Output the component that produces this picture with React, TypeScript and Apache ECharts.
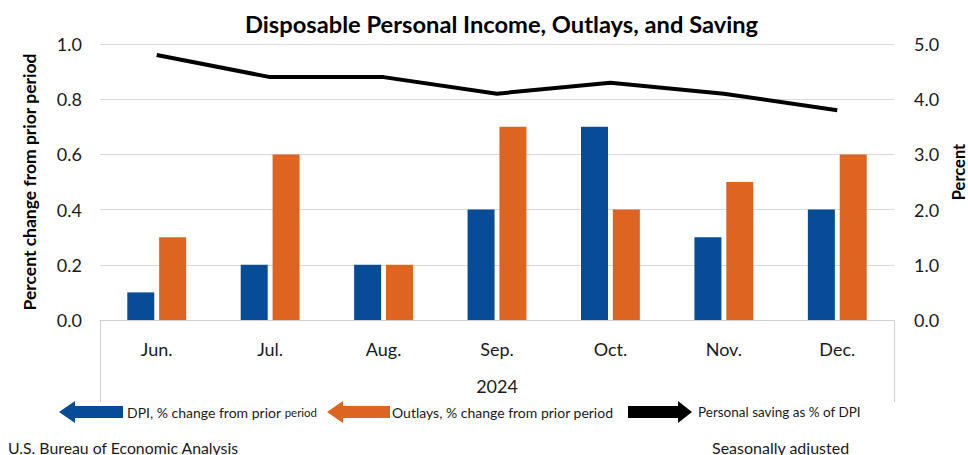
import React, { useEffect, useRef } from "react";
import * as echarts from "echarts";

const categories = ["Jun.", "Jul.", "Aug.", "Sep.", "Oct.", "Nov.", "Dec."];
const dpiChange = [0.1, 0.2, 0.2, 0.4, 0.7, 0.3, 0.4];
const outlaysChange = [0.3, 0.6, 0.2, 0.7, 0.4, 0.5, 0.6];
const savingRate = [4.8, 4.4, 4.4, 4.1, 4.3, 4.1, 3.8];
const yearLabel = "2024";

const FONT = "Lato, 'Open Sans', sans-serif";
const BLUE = "#064C97";
const ORANGE = "#DE6421";
const TEXT = "#1a1a1a";

export default function App() {
  const ref = useRef<HTMLDivElement>(null);

  useEffect(() => {
    if (!ref.current) return;
    const chart = echarts.init(ref.current, undefined, { renderer: "svg" });

    const arrowLeft = (tipX: number, baseX: number, endX: number, cy: number, color: string) => ({
      type: "polygon",
      shape: {
        points: [
          [tipX, cy],
          [baseX, cy - 11],
          [baseX, cy - 6],
          [endX, cy - 6],
          [endX, cy + 6],
          [baseX, cy + 6],
          [baseX, cy + 11],
        ],
      },
      style: { fill: color },
      silent: true,
    });
    const arrowRight = (startX: number, baseX: number, tipX: number, cy: number, color: string) => ({
      type: "polygon",
      shape: {
        points: [
          [startX, cy - 6],
          [baseX, cy - 6],
          [baseX, cy - 11],
          [tipX, cy],
          [baseX, cy + 11],
          [baseX, cy + 6],
          [startX, cy + 6],
        ],
      },
      style: { fill: color },
      silent: true,
    });

    const legendY = 412;

    chart.setOption({
      animation: false,
      backgroundColor: "#ffffff",
      textStyle: { fontFamily: FONT, color: TEXT },
      title: {
        text: "Disposable Personal Income, Outlays, and Saving",
        left: 240,
        top: 7,
        textStyle: { fontFamily: FONT, fontSize: 23.7, fontWeight: "bold", color: "#000" },
      },
      grid: { left: 100, right: 74, top: 44, bottom: 135, outerBoundsMode: "none", containLabel: false },
      xAxis: {
        type: "category",
        data: categories,
        axisLine: { show: true, lineStyle: { color: "#d0d0d0", width: 1 } },
        axisTick: { show: false },
        axisLabel: { fontSize: 18, color: TEXT, margin: 20, fontFamily: FONT },
      },
      yAxis: [
        {
          type: "value",
          min: 0,
          max: 1,
          interval: 0.2,
          name: "Percent change from prior period",
          nameLocation: "middle",
          nameGap: 62,
          nameTextStyle: { fontSize: 17.5, fontWeight: "bold", color: "#000", fontFamily: FONT },
          axisLine: { show: false },
          axisTick: { show: false },
          axisLabel: {
            fontSize: 18,
            color: TEXT,
            margin: 18,
            fontFamily: FONT,
            formatter: (v: number) => v.toFixed(1),
          },
          splitLine: { show: true, lineStyle: { color: "#d9d9d9", width: 1 } },
        },
        {
          type: "value",
          min: 0,
          max: 5,
          interval: 1,
          name: "Percent",
          nameLocation: "middle",
          nameGap: 56,
          nameRotate: 90,
          nameTextStyle: { fontSize: 16.5, fontWeight: "bold", color: "#000", fontFamily: FONT, padding: [0, 0, 0, 20] },
          axisLine: { show: false },
          axisTick: { show: false },
          axisLabel: {
            fontSize: 18,
            color: TEXT,
            margin: 20,
            fontFamily: FONT,
            formatter: (v: number) => v.toFixed(1),
          },
          splitLine: { show: false },
        },
      ],
      series: [
        {
          name: "DPI, % change from prior period",
          type: "bar",
          data: dpiChange,
          barWidth: 27,
          barGap: "18%",
          itemStyle: { color: BLUE },
          z: 2,
        },
        {
          name: "Outlays, % change from prior period",
          type: "bar",
          data: outlaysChange,
          barWidth: 27,
          barGap: "18%",
          itemStyle: { color: ORANGE },
          z: 2,
        },
        {
          name: "Personal saving as % of DPI",
          type: "line",
          yAxisIndex: 1,
          data: savingRate,
          showSymbol: false,
          symbol: "none",
          lineStyle: { color: "#000", width: 4 },
          z: 5,
        },
      ],
      graphic: [
        { type: "line", shape: { x1: 100.5, y1: 320, x2: 100.5, y2: 402 }, style: { stroke: "#d0d0d0", lineWidth: 1 }, silent: true },
        { type: "line", shape: { x1: 894.5, y1: 320, x2: 894.5, y2: 402 }, style: { stroke: "#d0d0d0", lineWidth: 1 }, silent: true },
        {
          type: "text",
          x: 497,
          y: 386,
          style: { text: yearLabel, fontSize: 18, fill: TEXT, fontFamily: FONT, align: "center", verticalAlign: "middle" },
        },
        arrowLeft(59, 75, 123, legendY, BLUE),
        {
          type: "text",
          x: 127,
          y: legendY,
          style: {
            text: "{a|DPI, % change from prior }{b|period}",
            rich: {
              a: { fontSize: 14, fill: TEXT, fontFamily: FONT },
              b: { fontSize: 11.5, fill: TEXT, fontFamily: FONT },
            },
            verticalAlign: "middle",
          },
        },
        arrowLeft(327, 343, 390, legendY, ORANGE),
        {
          type: "text",
          x: 392,
          y: legendY,
          style: { text: "Outlays, % change from prior period", fontSize: 14, fill: TEXT, fontFamily: FONT, verticalAlign: "middle" },
        },
        arrowRight(628, 678, 692, legendY, "#000"),
        {
          type: "text",
          x: 698,
          y: legendY,
          style: { text: "Personal saving as % of DPI", fontSize: 13.5, fill: TEXT, fontFamily: FONT, verticalAlign: "middle" },
        },
        {
          type: "text",
          x: 8,
          y: 447,
          style: { text: "U.S. Bureau of Economic Analysis", fontSize: 15.8, fill: TEXT, fontFamily: FONT, verticalAlign: "middle" },
        },
        {
          type: "text",
          x: 712,
          y: 447,
          style: { text: "Seasonally adjusted", fontSize: 16, fill: TEXT, fontFamily: FONT, verticalAlign: "middle" },
        },
      ],
    });

    return () => chart.dispose();
  }, []);

  return <div ref={ref} style={{ width: 968, height: 455, position: "absolute", left: 0, top: 0 }} />;
}
